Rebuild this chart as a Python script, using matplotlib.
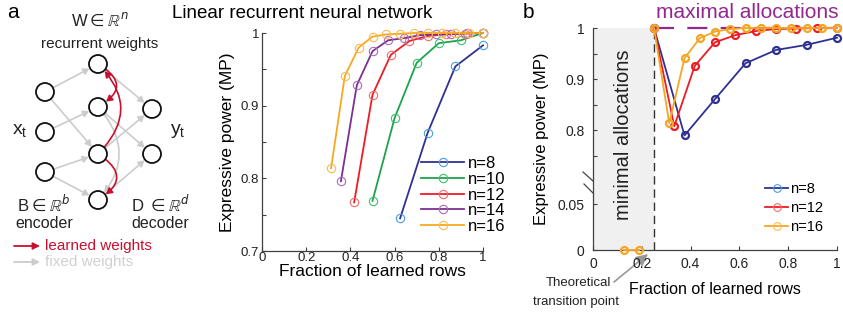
import numpy as np
import matplotlib
matplotlib.use('Agg')
import matplotlib.pyplot as plt
import matplotlib.transforms as mtransforms
from matplotlib.patches import Circle, FancyArrowPatch
from matplotlib.lines import Line2D

plt.rcParams['font.family'] = ['Liberation Sans', 'DejaVu Sans']
plt.rcParams['mathtext.fontset'] = 'dejavusans'

# ---- panel a data: expressive power vs fraction of learned rows
x8 = [0.625, 0.75, 0.875, 1.0]
y8 = [0.745, 0.863, 0.954, 0.983]
x10 = [0.5, 0.6, 0.7, 0.8, 0.9, 1.0]
y10 = [0.769, 0.883, 0.959, 0.986, 0.990, 1.0]
x12 = [0.417, 0.5, 0.583, 0.667, 0.75, 0.833, 0.917, 1.0]
y12 = [0.767, 0.915, 0.970, 0.989, 0.996, 0.998, 0.999, 1.0]
x14 = [0.357, 0.429, 0.5, 0.571, 0.643, 0.714, 0.786, 0.857, 0.929, 1.0]
y14 = [0.796, 0.928, 0.975, 0.990, 0.993, 0.997, 0.998, 0.999, 1.0, 1.0]
x16 = [0.3125, 0.375, 0.4375, 0.5, 0.5625, 0.625, 0.6875, 0.75, 0.8125, 0.875, 0.9375, 1.0]
y16 = [0.814, 0.941, 0.980, 0.995, 0.998, 0.999, 1.0, 1.0, 1.0, 1.0, 1.0, 1.0]
labels_a = ['n=8', 'n=10', 'n=12', 'n=14', 'n=16']

# ---- panel b data
xb8 = [0.25, 0.375, 0.5, 0.625, 0.75, 0.875, 1.0]
yb8 = [1.0, 0.790, 0.861, 0.931, 0.957, 0.967, 0.981]
xb12 = [0.25, 0.333, 0.417, 0.5, 0.583, 0.667, 0.75, 0.833, 0.917, 1.0]
yb12 = [1.0, 0.808, 0.926, 0.972, 0.986, 0.994, 0.998, 0.999, 1.0, 1.0]
xb16 = [0.25, 0.3125, 0.375, 0.4375, 0.5, 0.5625, 0.625, 0.6875, 0.75, 0.8125, 0.875, 0.9375, 1.0]
yb16 = [1.0, 0.814, 0.941, 0.980, 0.993, 0.998, 1.0, 1.0, 1.0, 1.0, 1.0, 1.0, 1.0]
xb16_zero = [0.125, 0.1875]
yb16_zero = [0.0, 0.0]
labels_b = ['n=8', 'n=12', 'n=16']
transition = 0.25

line_cols = ['#2E3192', '#1DA34B', '#ED1C24', '#7E2F8E', '#F7A823']
mark_cols = ['#4A9FE0', '#3FBF6E', '#F26B6B', '#A86BBE', '#FBBA4E']
b_cols = ['#2E3192', '#ED1C24', '#F5A623']
b_mark = ['#4A9FE0', '#F26B6B', '#FBBA4E']
spine_col = '#404040'

fig = plt.figure(figsize=(8.43, 3.16), dpi=100)

# overlay axes in pixel coordinates for the network sketch and annotations
ov = fig.add_axes([0, 0, 1, 1], zorder=0)
ov.set_xlim(0, 843)
ov.set_ylim(316, 0)
ov.axis('off')


def style_axes(ax):
    for s in ['top', 'right']:
        ax.spines[s].set_visible(False)
    for s in ['left', 'bottom']:
        ax.spines[s].set_color(spine_col)
        ax.spines[s].set_linewidth(0.9)
    ax.tick_params(which='both', direction='in', colors=spine_col, labelcolor='#222222',
                   labelsize=9.5, length=3, width=0.8)
    ax.tick_params(which='minor', length=3)
    ax.patch.set_alpha(0)


# ================= panel a chart
ax = fig.add_axes([262 / 843, 1 - 251 / 316, 221 / 843, 218 / 316], zorder=2)
series_a = [(x8, y8), (x10, y10), (x12, y12), (x14, y14), (x16, y16)]
for (xs, ys), lc, mc, lab in zip(series_a, line_cols, mark_cols, labels_a):
    ax.plot(xs, ys, color=lc, lw=1.3, marker='o', ms=6, mfc='none', mec=mc, mew=0.8,
            label=lab, clip_on=False)
ax.set_xlim(0, 1)
ax.set_ylim(0.7, 1)
ax.set_xticks([0, 0.2, 0.4, 0.6, 0.8, 1])
ax.set_xticklabels(['0', '0.2', '0.4', '0.6', '0.8', '1'])
ax.set_yticks([0.7, 0.8, 0.9, 1])
ax.set_yticklabels(['0.7', '0.8', '0.9', '1'])
ax.set_yticks([0.75, 0.85, 0.95], minor=True)
style_axes(ax)
ax.tick_params(axis='x', pad=1)
ax.tick_params(axis='y', pad=2)
ax.set_xlabel('Fraction of learned rows', fontsize=12.5, labelpad=0)
ax.set_ylabel('Expressive power (MP)', fontsize=12.5, labelpad=4)
ax.legend(loc='center left', bbox_to_anchor=(421 / 843, 1 - 195 / 316), bbox_transform=fig.transFigure,
          frameon=False, fontsize=12, handlelength=2.6, handletextpad=0.2, labelspacing=0.05,
          borderpad=0, borderaxespad=0)

# ================= panel b chart (broken y axis through a piecewise scale)
lo_y, mid_y, hi_y = 0.05, 0.7, 1.0
u_lo, u_mid, u_hi = 45.3, 68.2, 221.0


def fwd(y):
    y = np.asarray(y, dtype=float)
    return np.where(y <= lo_y, y * u_lo / lo_y,
                    np.where(y < mid_y, u_lo + (y - lo_y) * (u_mid - u_lo) / (mid_y - lo_y),
                             u_mid + (y - mid_y) * (u_hi - u_mid) / (hi_y - mid_y)))


def inv(u):
    u = np.asarray(u, dtype=float)
    return np.where(u <= u_lo, u * lo_y / u_lo,
                    np.where(u < u_mid, lo_y + (u - u_lo) * (mid_y - lo_y) / (u_mid - u_lo),
                             mid_y + (u - u_mid) * (hi_y - mid_y) / (u_hi - u_mid)))


bx = fig.add_axes([593 / 843, 1 - 250 / 316, 244 / 843, 222 / 316], zorder=2)
bx.set_yscale('function', functions=(fwd, inv))
bx.axvspan(0, transition, color='#F0F0F0', zorder=0, lw=0)
bx.axvline(transition, color='#333333', lw=1.0, ls=(0, (6, 3.5)), zorder=1)
bx.hlines(1.0, transition, 1.0, color='#93278F', lw=1.6, ls=(0, (9, 6)), zorder=1, clip_on=False)
series_b = [(xb8, yb8), (xb12, yb12), (xb16, yb16)]
for (xs, ys), c in zip(series_b, b_cols):
    bx.plot(xs, ys, color=c, lw=1.3, marker='o', ms=5, mfc='none', mec=c, mew=1.6,
            clip_on=False, zorder=3)
bx.plot(xb16_zero, yb16_zero, color=b_cols[2], lw=1.3, marker='o', ms=5, mfc='none',
        mec=b_cols[2], mew=1.6, clip_on=False, zorder=3)
bx.set_xlim(0, 1)
bx.set_ylim(0, 1)
bx.set_xticks([0, 0.2, 0.4, 0.6, 0.8, 1])
bx.set_xticklabels(['0', '0.2', '0.4', '0.6', '0.8', '1'])
bx.set_yticks([0, 0.05, 0.8, 0.9, 1])
bx.set_yticklabels(['0', '0.05', '0.8', '0.9', '1'])
bx.set_yticks([0.75, 0.85, 0.95], minor=True)
bx.yaxis.set_minor_formatter(plt.NullFormatter())
style_axes(bx)
bx.tick_params(axis='both', labelsize=10)
bx.tick_params(axis='x', pad=5)
bx.tick_params(axis='y', pad=6)
bx.set_xlabel('Fraction of learned rows', fontsize=11.5, labelpad=8)
bx.set_ylabel('Expressive power (MP)', fontsize=12, labelpad=6)
trans_b = mtransforms.blended_transform_factory(bx.transData, bx.transAxes)
bx.text(transition / 2, 0.52, 'minimal allocations', rotation=90, fontsize=14.5,
        ha='center', va='center', color='#222222', zorder=2, transform=trans_b)
handles_b = [Line2D([], [], color=c, lw=1.3, marker='o', ms=5.5, mfc='none', mec=m, mew=0.8)
             for c, m in zip(b_cols, b_mark)]
bx.legend(handles_b, labels_b, loc='center left', bbox_to_anchor=(765 / 843, 1 - 208 / 316),
          bbox_transform=fig.transFigure, frameon=False, fontsize=10.5, handlelength=1.6,
          handletextpad=0.1, labelspacing=0.35, borderpad=0, borderaxespad=0)

# ================= overlay texts
ov.text(13, 13, 'a', fontsize=15, ha='center', va='center')
ov.text(528, 13, 'b', fontsize=15, ha='center', va='center')
ov.text(302, 13, 'Linear recurrent neural network', fontsize=13.5, ha='center', va='center')
ov.text(747, 13, 'maximal allocations', fontsize=15, ha='center', va='center', color='#93278F')
ov.text(578, 283, 'Theoretical', fontsize=9.5, ha='center', va='center', color='#222222')
ov.text(576, 302, 'transition point', fontsize=9.5, ha='center', va='center', color='#222222')
ov.annotate('', xy=(648, 254), xytext=(614, 282),
            arrowprops=dict(arrowstyle='-|>,head_length=0.7,head_width=0.35', color='#999999', lw=1.2,
                            shrinkA=0, shrinkB=0))
# axis break marks on panel b
ov.plot([583, 603], [172, 190], color='#444444', lw=0.9)
ov.plot([584, 603], [184, 203], color='#444444', lw=0.9)

# ================= network sketch
inp = [(45, 92), (45, 132), (45, 172)]
hid = [(98, 64), (98, 107), (98, 154), (98, 200)]
out = [(152, 109), (152, 154)]
r = 9
for (cx, cy) in inp + hid + out:
    ov.add_patch(Circle((cx, cy), r, facecolor='white', edgecolor='#111111', lw=1.3, zorder=3))

gray = '#CCCCCC'
red = '#C8102E'
head = '-|>,head_length=3.5,head_width=2'
gray_edges = [(inp[0], hid[0]), (inp[0], hid[2]), (inp[1], hid[1]), (inp[2], hid[2]), (inp[2], hid[3]),
              (hid[0], out[0]), (hid[1], out[1]), (hid[2], out[0]), (hid[3], out[1])]
for a_, b_ in gray_edges:
    ov.add_patch(FancyArrowPatch(a_, b_, arrowstyle=head, color=gray, lw=1.2,
                                 shrinkA=7, shrinkB=7, zorder=1))
ov.add_patch(FancyArrowPatch(hid[1], hid[3], connectionstyle='arc3,rad=-0.45', arrowstyle=head,
                             color=gray, lw=1.2, shrinkA=7, shrinkB=7, zorder=1))
for a_, b_, rad in [(hid[0], hid[1], -0.85), (hid[2], hid[0], 0.5), (hid[2], hid[3], -0.8)]:
    ov.add_patch(FancyArrowPatch(a_, b_, connectionstyle='arc3,rad=%s' % rad, arrowstyle=head,
                                 color=red, lw=1.2, shrinkA=6, shrinkB=7, zorder=2))

ov.text(100, 20, r'W$\in\mathbb{R}^{n}$', fontsize=12, ha='center', va='center', color='#222222')
ov.text(100, 44, 'recurrent weights', fontsize=11, ha='center', va='center', color='#222222')
ov.text(20, 131, r'x$_\mathregular{t}$', fontsize=14, ha='center', va='center', color='#222222')
ov.text(178, 131, r'y$_\mathregular{t}$', fontsize=14, ha='center', va='center', color='#222222')
ov.text(44, 204, r'B$\in\mathbb{R}^{b}$', fontsize=12, ha='center', va='center', color='#222222')
ov.text(44, 223, 'encoder', fontsize=11.5, ha='center', va='center', color='#222222')
ov.text(161, 204, r'D $\in\mathbb{R}^{d}$', fontsize=12, ha='center', va='center', color='#222222')
ov.text(160, 223, 'decoder', fontsize=11.5, ha='center', va='center', color='#222222')
ov.add_patch(FancyArrowPatch((14, 246), (40, 246), arrowstyle='-|>,head_length=4,head_width=2',
                             color=red, lw=1.3, shrinkA=0, shrinkB=0))
ov.text(45, 246, 'learned weights', fontsize=11, ha='left', va='center', color=red)
ov.add_patch(FancyArrowPatch((14, 262), (40, 262), arrowstyle='-|>,head_length=4,head_width=2',
                             color=gray, lw=1.3, shrinkA=0, shrinkB=0))
ov.text(45, 262, 'fixed weights', fontsize=11, ha='left', va='center', color='#D0D0D0')

fig.savefig('out.png', dpi=100)
